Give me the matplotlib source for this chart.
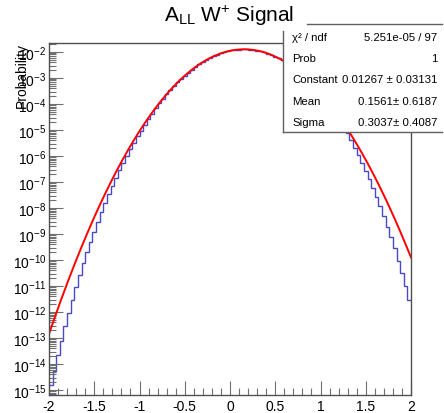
import numpy as np
import matplotlib
matplotlib.use("Agg")
import matplotlib.pyplot as plt
from matplotlib.ticker import LogLocator, FixedLocator, NullFormatter
from matplotlib.patches import Rectangle
from matplotlib.lines import Line2D

plt.rcParams['font.family'] = ['Liberation Sans', 'DejaVu Sans']
plt.rcParams['mathtext.fontset'] = 'custom'
plt.rcParams['mathtext.rm'] = 'Liberation Sans'
plt.rcParams['mathtext.it'] = 'Liberation Sans:italic'

# histogram: 100 bins from -2 to 2, log10(probability)
x_lo, x_hi, n_bins = -2.0, 2.0, 100
log_prob = [
    -14.81, -14.25, -13.64, -13.10, -12.55, -12.04, -11.54, -11.05, -10.59, -10.12,
    -9.70, -9.29, -8.91, -8.53, -8.17, -7.82, -7.48, -7.15, -6.84, -6.55,
    -6.25, -6.00, -5.74, -5.49, -5.25, -5.02, -4.80, -4.57, -4.37, -4.17,
    -3.98, -3.80, -3.62, -3.47, -3.32, -3.17, -3.04, -2.91, -2.79, -2.68,
    -2.57, -2.48, -2.39, -2.31, -2.23, -2.16, -2.10, -2.05, -2.01, -1.97,
    -1.94, -1.92, -1.91, -1.90, -1.90, -1.91, -1.92, -1.95, -1.98, -2.02,
    -2.06, -2.12, -2.18, -2.24, -2.32, -2.40, -2.50, -2.59, -2.70, -2.81,
    -2.94, -3.06, -3.20, -3.34, -3.51, -3.67, -3.85, -4.04, -4.23, -4.43,
    -4.64, -4.86, -5.10, -5.40, -5.69, -5.97, -6.27, -6.59, -6.89, -7.22,
    -7.57, -7.91, -8.30, -8.72, -9.13, -9.55, -10.02, -10.48, -10.98, -11.53,
]

# gaussian fit result (from the stats box)
fit_const = 0.01267
fit_mean = 0.1561
fit_sigma = 0.3037

x_ticks = [-2, -1.5, -1, -0.5, 0, 0.5, 1, 1.5, 2]
y_decades = list(range(-15, -1))

stat_names = ["\u03c7\u00b2 / ndf", "Prob", "Constant", "Mean", "Sigma"]
stat_values = ["5.251e-05 / 97", "1", "0.01267 \u00b1 0.03131",
               "0.1561\u00b1 0.6187", "0.3037\u00b1 0.4087"]

W, H = 444, 414
fig = plt.figure(figsize=(W / 100, H / 100), dpi=100)
ax = fig.add_axes([49 / W, 1 - 396 / H, (411 - 49) / W, (396 - 44) / H])

edges = np.linspace(x_lo, x_hi, n_bins + 1)
values = 10.0 ** np.array(log_prob)
ax.stairs(values, edges, color='#4848c8', lw=1.0, baseline=None)

xf = np.linspace(x_lo, x_hi, 400)
yf = fit_const * np.exp(-0.5 * ((xf - fit_mean) / fit_sigma) ** 2)
ax.plot(xf, yf, color='#ff0000', lw=1.4)

ax.set_yscale('log')
ax.set_xlim(x_lo, x_hi)
ax.set_ylim(10 ** -15.19, 10 ** -1.655)

ax.xaxis.set_major_locator(FixedLocator(x_ticks))
ax.xaxis.set_minor_locator(FixedLocator(np.arange(-2, 2.001, 0.1)))
ax.set_xticklabels(['%g' % v for v in x_ticks])
ax.yaxis.set_major_locator(FixedLocator([10.0 ** k for k in y_decades]))
ax.yaxis.set_minor_locator(LogLocator(base=10, subs=np.arange(2, 10), numticks=40))
ax.yaxis.set_minor_formatter(NullFormatter())
ax.set_yticklabels([r'$10^{%d}$' % k for k in y_decades])

ax.tick_params(which='both', direction='in', color='#707070', width=0.8,
               top=False, right=False, labelsize=10)
ax.tick_params(which='major', length=10)
ax.tick_params(which='minor', length=5)
ax.tick_params(axis='y', pad=2)
ax.tick_params(axis='x', pad=3)
for s in ax.spines.values():
    s.set_color('#505050')
    s.set_linewidth(1.0)

fig.text(229 / W, 1 - 22 / H, r'$\mathregular{A_{LL}}$ $\mathregular{W^{+}}$ Signal',
         ha='center', va='baseline', fontsize=15)
fig.text(22 / W, 1 - 43 / H, 'Probability', rotation=90, ha='center', va='top',
         fontsize=10)

# stats box
bx0, by0, bx1, by1 = 283, 25, 442, 133
box = Rectangle((bx0 / W, 1 - by1 / H), (bx1 - bx0) / W, (by1 - by0) / H,
                transform=fig.transFigure, facecolor='white', edgecolor='none',
                zorder=5)
fig.add_artist(box)
border = [((307, 25), (bx1, 25)), ((bx0, 32), (bx0, by1)), ((bx0, by1), (bx1, by1))]
for (xa, ya), (xb, yb) in border:
    fig.add_artist(Line2D([xa / W, xb / W], [1 - ya / H, 1 - yb / H],
                          transform=fig.transFigure, color='#606060', lw=1.0,
                          zorder=6))
row_y = [38, 59, 80, 102, 123]
for name, val, yy in zip(stat_names, stat_values, row_y):
    fig.text(292 / W, 1 - yy / H, name, ha='left', va='center', fontsize=8.2,
             zorder=7)
    fig.text(437 / W, 1 - yy / H, val, ha='right', va='center', fontsize=8.2,
             zorder=7)

fig.savefig('out.png', dpi=100)
